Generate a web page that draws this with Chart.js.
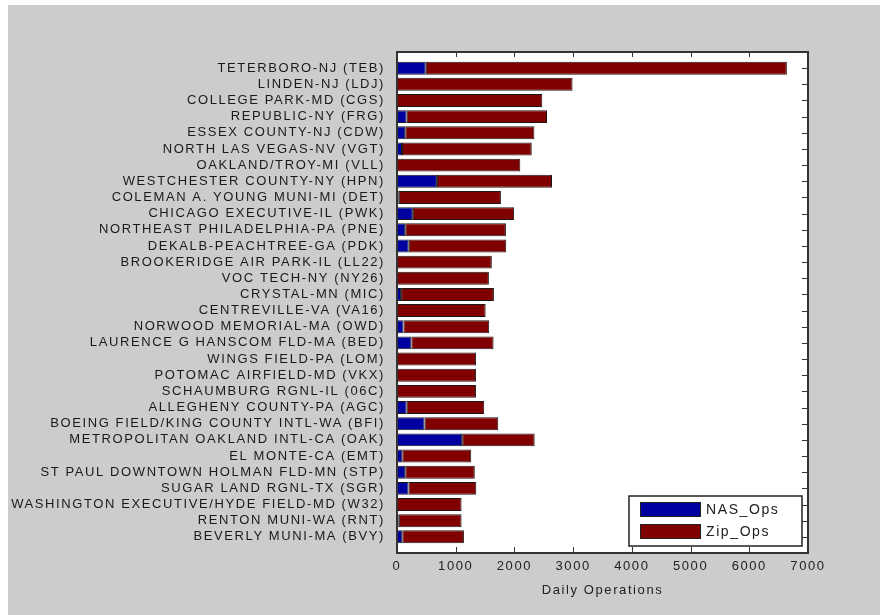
<!DOCTYPE html>
<html>
<head>
<meta charset="utf-8">
<script src="https://cdn.jsdelivr.net/npm/chart.js@4.4.1/dist/chart.umd.min.js"></script>
<style>
  html, body { margin: 0; padding: 0; background: #ffffff; }
  #wrap { position: absolute; left: 8px; top: 5px; width: 872px; height: 610px; background: #cccccc; }
</style>
</head>
<body>
<div id="wrap"><canvas id="opsChart"></canvas></div>
<script>
const airports = [
  'TETERBORO-NJ (TEB)', 'LINDEN-NJ (LDJ)', 'COLLEGE PARK-MD (CGS)', 'REPUBLIC-NY (FRG)',
  'ESSEX COUNTY-NJ (CDW)', 'NORTH LAS VEGAS-NV (VGT)', 'OAKLAND/TROY-MI (VLL)',
  'WESTCHESTER COUNTY-NY (HPN)', 'COLEMAN A. YOUNG MUNI-MI (DET)', 'CHICAGO EXECUTIVE-IL (PWK)',
  'NORTHEAST PHILADELPHIA-PA (PNE)', 'DEKALB-PEACHTREE-GA (PDK)', 'BROOKERIDGE AIR PARK-IL (LL22)',
  'VOC TECH-NY (NY26)', 'CRYSTAL-MN (MIC)', 'CENTREVILLE-VA (VA16)', 'NORWOOD MEMORIAL-MA (OWD)',
  'LAURENCE G HANSCOM FLD-MA (BED)', 'WINGS FIELD-PA (LOM)', 'POTOMAC AIRFIELD-MD (VKX)',
  'SCHAUMBURG RGNL-IL (06C)', 'ALLEGHENY COUNTY-PA (AGC)', 'BOEING FIELD/KING COUNTY INTL-WA (BFI)',
  'METROPOLITAN OAKLAND INTL-CA (OAK)', 'EL MONTE-CA (EMT)', 'ST PAUL DOWNTOWN HOLMAN FLD-MN (STP)',
  'SUGAR LAND RGNL-TX (SGR)', 'WASHINGTON EXECUTIVE/HYDE FIELD-MD (W32)', 'RENTON MUNI-WA (RNT)',
  'BEVERLY MUNI-MA (BVY)'
];

const nasOps = [490, 0, 0, 165, 140, 85, 0, 680, 30, 270,
                140, 200, 0, 0, 70, 0, 110, 245, 0, 0,
                0, 165, 470, 1110, 90, 140, 195, 0, 30, 90];

const zipOps = [6150, 2990, 2475, 2390, 2200, 2210, 2100, 1960, 1740, 1725,
                1715, 1660, 1615, 1565, 1580, 1510, 1460, 1400, 1345, 1345,
                1345, 1320, 1255, 1235, 1175, 1185, 1155, 1100, 1070, 1050];

const xTicks = [0, 1000, 2000, 3000, 4000, 5000, 6000, 7000];

const FONT = "'Liberation Sans', Arial, sans-serif";

// wide, spaced-out lettering like the original
const spacing = {
  id: 'spacing',
  beforeLayout(chart) { chart.ctx.letterSpacing = '1.6px'; },
  beforeDraw(chart) { chart.ctx.letterSpacing = '1.6px'; }
};

// white plot area, black frame, inward tick marks, boxed legend
const frame = {
  id: 'frame',
  beforeDatasetsDraw(chart) {
    const { ctx, chartArea: a } = chart;
    ctx.save();
    ctx.fillStyle = '#ffffff';
    ctx.fillRect(a.left, a.top, a.right - a.left, a.bottom - a.top);
    ctx.restore();
  },
  afterDatasetsDraw(chart) {
    const { ctx, chartArea: a, scales } = chart;
    ctx.save();
    ctx.strokeStyle = '#333333';
    ctx.lineWidth = 1;
    ctx.beginPath();
    scales.x.ticks.forEach(t => {
      const px = Math.round(scales.x.getPixelForValue(t.value)) + 0.5;
      ctx.moveTo(px, a.top); ctx.lineTo(px, a.top + 5);
      ctx.moveTo(px, a.bottom); ctx.lineTo(px, a.bottom - 6);
    });
    scales.y.ticks.forEach(t => {
      const py = Math.round(scales.y.getPixelForValue(t.value)) + 0.5;
      ctx.moveTo(a.right, py); ctx.lineTo(a.right - 6, py);
    });
    ctx.stroke();
    ctx.lineWidth = 2;
    ctx.strokeRect(a.left, a.top, a.right - a.left, a.bottom - a.top);

    // legend
    const w = 173, h = 50;
    const lx = a.right - 6 - w, ly = a.bottom - 7 - h;
    ctx.fillStyle = '#ffffff';
    ctx.fillRect(lx, ly, w, h);
    ctx.lineWidth = 1.5;
    ctx.strokeStyle = '#222222';
    ctx.strokeRect(lx, ly, w, h);
    ctx.font = '14px ' + FONT;
    ctx.textBaseline = 'middle';
    ctx.textAlign = 'left';
    chart.data.datasets.forEach((ds, i) => {
      const sy = ly + 6 + i * 22;
      ctx.fillStyle = ds.backgroundColor;
      ctx.fillRect(lx + 11, sy, 60, 14);
      ctx.lineWidth = 1;
      ctx.strokeStyle = '#222222';
      ctx.strokeRect(lx + 11.5, sy + 0.5, 60, 14);
      ctx.fillStyle = '#222222';
      ctx.fillText(ds.label, lx + 77, sy + 8);
    });
    ctx.restore();
  }
};

const ctx = document.getElementById('opsChart').getContext('2d');
const opsChart = new Chart(ctx, {
  type: 'bar',
  data: {
    datasets: [
      {
        label: 'NAS_Ops',
        data: nasOps.map((v, i) => ({ x: v, y: i + 1 })),
        backgroundColor: '#0000a0',
        borderColor: '#1a1a1a',
        borderWidth: 1,
        borderSkipped: false
      },
      {
        label: 'Zip_Ops',
        data: zipOps.map((v, i) => ({ x: v, y: i + 1 })),
        backgroundColor: '#800000',
        borderColor: '#1a1a1a',
        borderWidth: 1,
        borderSkipped: false
      }
    ]
  },
  options: {
    indexAxis: 'y',
    responsive: true,
    maintainAspectRatio: false,
    animation: false,
    layout: { padding: { top: 47, right: 72, left: 0, bottom: 0 } },
    datasets: {
      bar: { categoryPercentage: 1, barPercentage: 0.8 }
    },
    plugins: {
      legend: { display: false },
      tooltip: { enabled: false }
    },
    scales: {
      x: {
        type: 'linear',
        stacked: true,
        min: 0,
        max: 7000,
        grid: { display: false, drawTicks: false },
        border: { display: false },
        afterBuildTicks: s => { s.ticks = xTicks.map(v => ({ value: v })); },
        afterFit: s => { s.height = 62; },
        ticks: {
          color: '#222222',
          padding: 6,
          font: { family: FONT, size: 13 },
          callback: v => String(v)
        },
        title: {
          display: true,
          text: 'Daily Operations',
          color: '#222222',
          padding: { top: 0, bottom: 17 },
          font: { family: FONT, size: 13 }
        }
      },
      y: {
        type: 'linear',
        stacked: true,
        reverse: true,
        offset: false,
        min: 0,
        max: 31,
        grid: { display: false, drawTicks: false },
        border: { display: false },
        afterBuildTicks: s => { s.ticks = airports.map((_, i) => ({ value: i + 1 })); },
        afterFit: s => { s.width = 389; },
        ticks: {
          autoSkip: false,
          color: '#1a1a1a',
          padding: 12,
          font: { family: FONT, size: 13 },
          callback: v => airports[v - 1] || ''
        }
      }
    }
  },
  plugins: [spacing, frame]
});
</script>
</body>
</html>
